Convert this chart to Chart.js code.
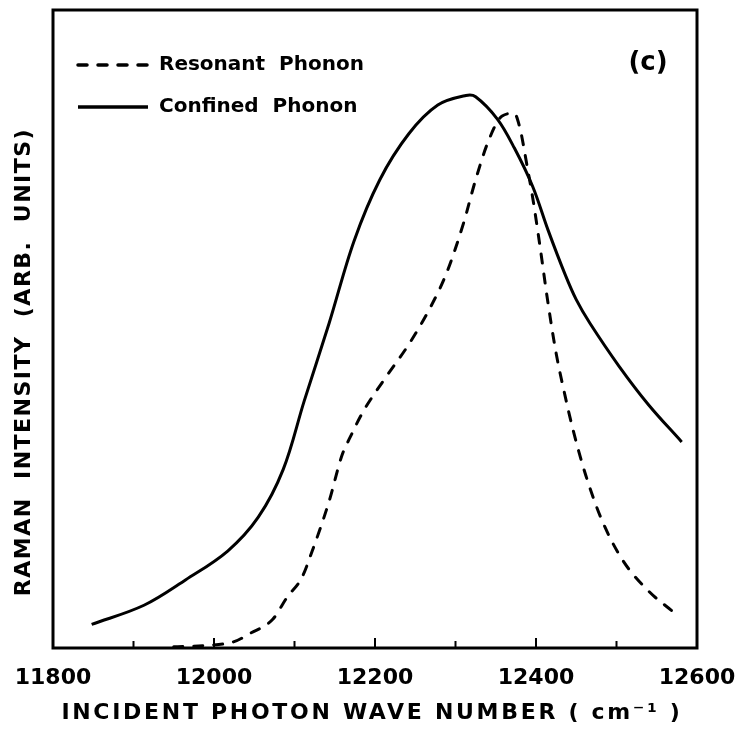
<!DOCTYPE html>
<html>
<head>
<meta charset="utf-8">
<script src="https://cdn.jsdelivr.net/npm/chart.js@4.4.1/dist/chart.umd.min.js"></script>
<style>
  html, body { margin: 0; padding: 0; background: #fff; }
  #wrap { width: 737px; height: 731px; }
</style>
</head>
<body>
<div id="wrap"><canvas id="ramanChart"></canvas></div>
<script>
// x tick labels and the small inward tick marks on the bottom axis
const xLabels = [11800, 12000, 12200, 12400, 12600];
const tickMarks = [11900, 12000, 12100, 12200, 12300, 12400, 12500];

// Resonant phonon (dashed)
const resonantX = [11950, 11990, 12025, 12045, 12073, 12091, 12109, 12122, 12143, 12159, 12169,
                   12185, 12211, 12242, 12268, 12289, 12310, 12325, 12341, 12358, 12373, 12380,
                   12389, 12396, 12404, 12415, 12425, 12436, 12446, 12462, 12482, 12508, 12540, 12569];
const resonantY = [0.2, 0.4, 1.0, 2.3, 4.5, 8.0, 11.0, 15.2, 23.0, 30.2, 33.0,
                   37.0, 42.0, 47.6, 53.2, 58.8, 66.6, 73.4, 79.5, 83.4, 83.8, 81.5,
                   75.5, 70.5, 63.8, 54.0, 46.2, 39.6, 34.2, 27.0, 20.0, 13.7, 8.9, 5.8];

// Confined phonon (solid)
const confinedX = [11848, 11913, 11965, 12017, 12055, 12086, 12112, 12143, 12174, 12206, 12242,
                   12278, 12313, 12325, 12352, 12373, 12396, 12415, 12436, 12450, 12467, 12503, 12540, 12581];
const confinedY = [3.7, 6.7, 10.7, 15.2, 20.5, 28.0, 38.7, 50.9, 63.8, 73.4, 80.6,
                   85.1, 86.6, 86.4, 82.9, 78.4, 72.3, 65.5, 58.6, 54.6, 50.9, 44.2, 38.1, 32.3];

const toPoints = (xs, ys) => xs.map((x, i) => ({ x: x, y: ys[i] }));
const FONT = "'DejaVu Sans'";

// frame, inward ticks, legend and text labels
const decorations = {
    id: 'decorations',
    afterDraw(chart) {
        const ctx = chart.ctx;
        const a = chart.chartArea;
        const xs = chart.scales.x;
        ctx.save();
        ctx.strokeStyle = '#000';
        ctx.lineWidth = 3;
        ctx.strokeRect(a.left, a.top, a.right - a.left, a.bottom - a.top);

        ctx.lineWidth = 2;
        tickMarks.forEach(v => {
            const px = xs.getPixelForValue(v);
            const len = (v % 200 === 0) ? 10 : 7;
            ctx.beginPath();
            ctx.moveTo(px, a.bottom);
            ctx.lineTo(px, a.bottom - len);
            ctx.stroke();
        });

        // legend inside the plot
        chart.data.datasets.forEach((ds, i) => {
            const y = 65 + i * 42;
            ctx.lineWidth = 3.5;
            ctx.lineCap = ds.borderDash ? 'round' : 'butt';
            ctx.setLineDash(ds.borderDash || []);
            ctx.beginPath();
            ctx.moveTo(78, y);
            ctx.lineTo(148, y);
            ctx.stroke();
            ctx.setLineDash([]);
            ctx.fillStyle = '#000';
            ctx.font = 'bold 20px ' + FONT;
            ctx.textBaseline = 'middle';
            ctx.textAlign = 'left';
            ctx.fillText(ds.label, 159, y);
        });

        ctx.font = 'bold 26px ' + FONT;
        ctx.textAlign = 'center';
        ctx.fillText('(c)', 648, 63);

        // axis titles
        ctx.letterSpacing = '2.7px';
        ctx.font = 'bold 22px ' + FONT;
        ctx.fillText('INCIDENT PHOTON WAVE NUMBER ( cm\u207B\u00B9 )', 372, 713);

        ctx.letterSpacing = '1.5px';
        ctx.translate(24, 362);
        ctx.rotate(-Math.PI / 2);
        ctx.fillText('RAMAN  INTENSITY  (ARB.  UNITS)', 0, 0);
        ctx.restore();
    }
};

new Chart(document.getElementById('ramanChart'), {
    type: 'line',
    data: {
        datasets: [{
            label: 'Resonant  Phonon',
            data: toPoints(resonantX, resonantY),
            borderColor: '#000',
            borderWidth: 3,
            borderDash: [9, 11],
            borderCapStyle: 'round',
            pointRadius: 0,
            fill: false,
            cubicInterpolationMode: 'monotone'
        },
        {
            label: 'Confined  Phonon',
            data: toPoints(confinedX, confinedY),
            borderColor: '#000',
            borderWidth: 3,
            pointRadius: 0,
            fill: false,
            tension: 0.35
        }]
    },
    options: {
        responsive: true,
        maintainAspectRatio: false,
        animation: false,
        layout: { padding: { top: 10, right: 40, left: 0, bottom: 0 } },
        plugins: {
            legend: { display: false },
            tooltip: { enabled: false }
        },
        scales: {
            x: {
                type: 'linear',
                min: 11800,
                max: 12600,
                grid: { display: false, drawTicks: false },
                border: { display: false },
                ticks: {
                    stepSize: 200,
                    autoSkip: false,
                    maxRotation: 0,
                    padding: 17,
                    color: '#000',
                    font: { family: FONT, weight: 'bold', size: 22 },
                    callback: v => xLabels.includes(v) ? String(v) : ''
                },
                afterFit: s => { s.height = 83; s.paddingLeft = 0; s.paddingRight = 0; }
            },
            y: {
                min: 0,
                max: 100,
                grid: { display: false, drawTicks: false },
                border: { display: false },
                ticks: { display: false },
                afterFit: s => { s.width = 53; }
            }
        }
    },
    plugins: [decorations]
});
</script>
</body>
</html>
